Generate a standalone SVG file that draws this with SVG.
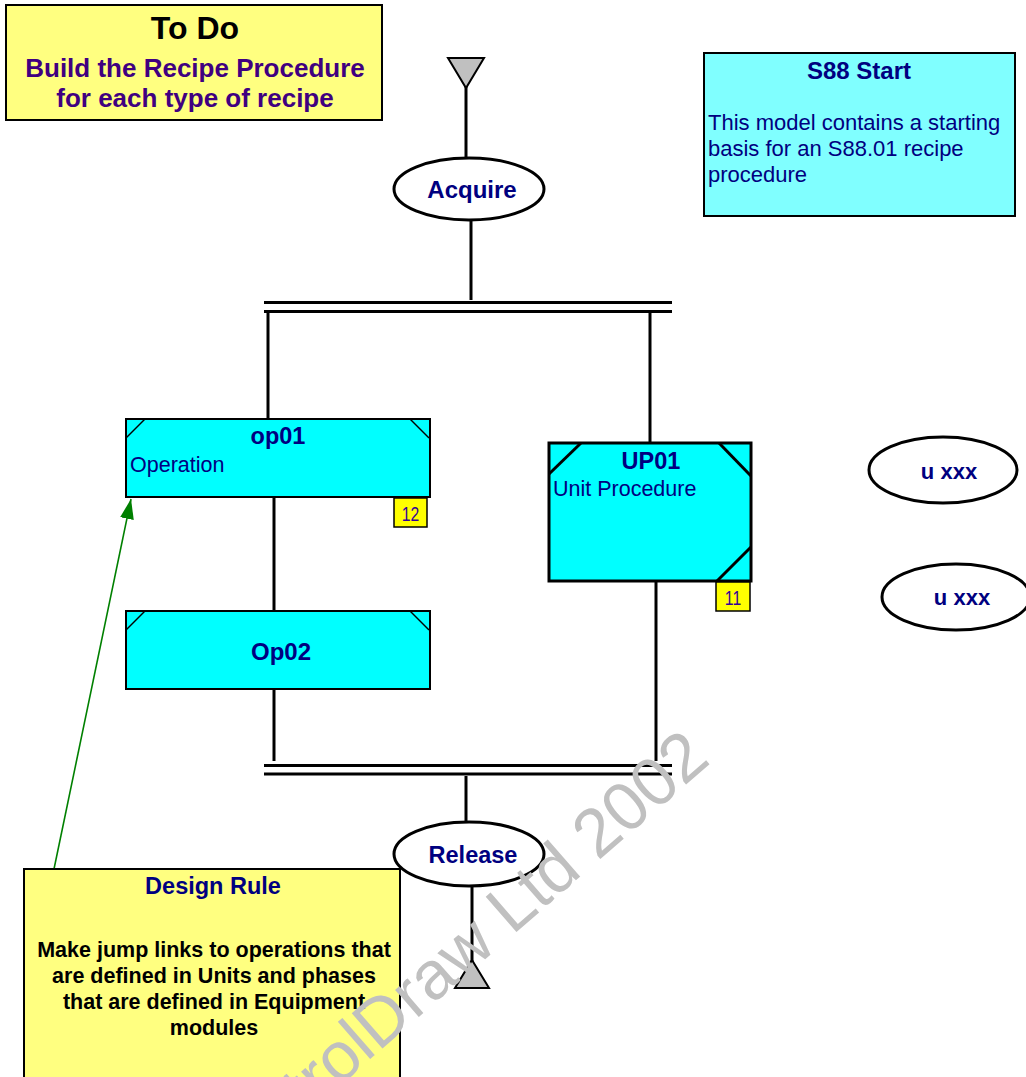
<svg xmlns="http://www.w3.org/2000/svg" width="1026" height="1077" viewBox="0 0 1026 1077">
  <style>
    text { font-family: "Liberation Sans", Arial, sans-serif; }
    .note-y { fill: #ffff80; stroke: #000; stroke-width: 2; }
    .note-c { fill: #80ffff; stroke: #000; stroke-width: 2; }
    .op { fill: #00ffff; stroke: #000; stroke-width: 2; }
    .up { fill: #00ffff; stroke: #000; stroke-width: 3; }
    .corner { stroke: #000; stroke-width: 1.5; fill: none; }
    .corner-up { stroke: #000; stroke-width: 3; fill: none; }
    .badge { fill: #ffff00; stroke: #000; stroke-width: 1.5; }
    .badge-t { font-size: 21px; fill: #330099; }
    .step { fill: #fff; stroke: #000; stroke-width: 3; }
    .term { fill: #c0c0c0; stroke: #000; stroke-width: 2; }
    .link { stroke: #000; stroke-width: 3; fill: none; }
    .bar { stroke: #000; stroke-width: 3.2; fill: none; }
    .title { font-weight: bold; fill: #000080; }
    .body { fill: #000080; }
    .mid { text-anchor: middle; }
  </style>
  <defs>
    <marker id="jump-head" viewBox="0 0 20 14" refX="20" refY="7" markerWidth="20" markerHeight="14" markerUnits="userSpaceOnUse" orient="auto">
      <path d="M0,0 L20,7 L0,14 z" fill="#008000"/>
    </marker>
  </defs>

  <!-- connectors -->
  <g id="connectors">
    <line class="link" x1="466" y1="86" x2="466" y2="158"/>
    <line class="link" x1="471" y1="220" x2="471" y2="300"/>
    <!-- parallel begin -->
    <line class="bar" x1="264" y1="302.5" x2="672" y2="302.5"/>
    <line class="bar" x1="264" y1="311.5" x2="672" y2="311.5"/>
    <line class="link" x1="268" y1="313" x2="268" y2="419"/>
    <line class="link" x1="650" y1="313" x2="650" y2="443"/>
    <line class="link" x1="274" y1="497" x2="274" y2="611"/>
    <line class="link" x1="274" y1="689" x2="274" y2="761"/>
    <line class="link" x1="656" y1="581" x2="656" y2="761"/>
    <!-- parallel end -->
    <line class="bar" x1="264" y1="765.5" x2="672" y2="765.5"/>
    <line class="bar" x1="264" y1="774" x2="672" y2="774"/>
    <line class="link" x1="466" y1="776" x2="466" y2="822"/>
    <line class="link" x1="472" y1="887" x2="472" y2="962"/>
    <!-- jump link -->
    <line x1="54" y1="869" x2="131" y2="499" stroke="#008000" stroke-width="1.6" marker-end="url(#jump-head)"/>
  </g>

  <g id="todo">
    <rect class="note-y" x="6" y="5" width="376" height="115"/>
    <text class="mid" x="195" y="39" font-size="32" font-weight="bold" fill="#000">To Do</text>
    <text class="mid" x="195" y="77" font-size="26" font-weight="bold" fill="#400080">Build the Recipe Procedure</text>
    <text class="mid" x="195" y="107" font-size="26" font-weight="bold" fill="#400080">for each type of recipe</text>
  </g>

  <g id="start">
    <polygon class="term" points="448,58 484,58 466,88"/>
  </g>

  <g id="acquire">
    <ellipse class="step" cx="469" cy="189" rx="75" ry="31"/>
    <text class="title mid" x="472" y="198" font-size="24">Acquire</text>
  </g>

  <g id="s88-start">
    <rect class="note-c" x="704" y="53" width="311" height="163"/>
    <text class="title mid" x="859" y="79" font-size="24">S88 Start</text>
    <text class="body" x="708" y="130" font-size="22">This model contains a starting</text>
    <text class="body" x="708" y="156" font-size="22">basis for an S88.01 recipe</text>
    <text class="body" x="708" y="182" font-size="22">procedure</text>
  </g>

  <g id="op01">
    <rect class="op" x="126" y="419" width="304" height="78"/>
    <line class="corner" x1="126" y1="438" x2="145" y2="419"/>
    <line class="corner" x1="410" y1="419" x2="429" y2="438"/>
    <text class="title mid" x="278" y="444" font-size="23.5">op01</text>
    <text class="body" x="130" y="472" font-size="21.5">Operation</text>
    <rect class="badge" x="394" y="498" width="33" height="29"/>
    <text class="badge-t mid" x="410.5" y="521" transform="translate(410.5 0) scale(0.75 1) translate(-410.5 0)">12</text>
  </g>

  <g id="op02">
    <rect class="op" x="126" y="611" width="304" height="78"/>
    <line class="corner" x1="126" y1="630" x2="145" y2="611"/>
    <line class="corner" x1="410" y1="611" x2="429" y2="630"/>
    <text class="title mid" x="281" y="660" font-size="24">Op02</text>
  </g>

  <g id="up01">
    <rect class="up" x="549" y="443" width="202" height="138"/>
    <line class="corner-up" x1="549" y1="474" x2="581" y2="443"/>
    <line class="corner-up" x1="719" y1="443" x2="751" y2="476"/>
    <line class="corner-up" x1="717" y1="581" x2="751" y2="547"/>
    <text class="title mid" x="651" y="469" font-size="23.5">UP01</text>
    <text class="body" x="553" y="496" font-size="21.5">Unit Procedure</text>
    <rect class="badge" x="716" y="582" width="34" height="29"/>
    <text class="badge-t mid" x="733" y="605" transform="translate(733 0) scale(0.75 1) translate(-733 0)">11</text>
  </g>

  <g id="u-xxx-1">
    <ellipse class="step" cx="943" cy="470" rx="74" ry="33"/>
    <text class="title mid" x="949" y="479" font-size="22">u xxx</text>
  </g>

  <g id="u-xxx-2">
    <ellipse class="step" cx="956" cy="597" rx="74" ry="33"/>
    <text class="title mid" x="962" y="605" font-size="22">u xxx</text>
  </g>

  <g id="release">
    <ellipse class="step" cx="469" cy="854" rx="75" ry="32"/>
    <text class="title mid" x="473" y="863" font-size="23.5">Release</text>
  </g>

  <g id="end">
    <polygon class="term" points="472,960 489,988 455,988"/>
  </g>

  <g id="design-rule">
    <rect class="note-y" x="24" y="869" width="376" height="220"/>
    <text class="title mid" x="213" y="894" font-size="23.5">Design Rule</text>
    <text class="mid" x="214" y="957" font-size="21.5" font-weight="bold" fill="#000">Make jump links to operations that</text>
    <text class="mid" x="214" y="983" font-size="21.5" font-weight="bold" fill="#000">are defined in Units and phases</text>
    <text class="mid" x="214" y="1009" font-size="21.5" font-weight="bold" fill="#000">that are defined in Equipment</text>
    <text class="mid" x="214" y="1035" font-size="21.5" font-weight="bold" fill="#000">modules</text>
  </g>

  <!-- copyright watermark -->
  <text x="0" y="0" font-size="68" fill="#c0c0c0" text-anchor="end" transform="translate(712 762) rotate(-41)">ControlDraw Ltd 2002</text>
</svg>
